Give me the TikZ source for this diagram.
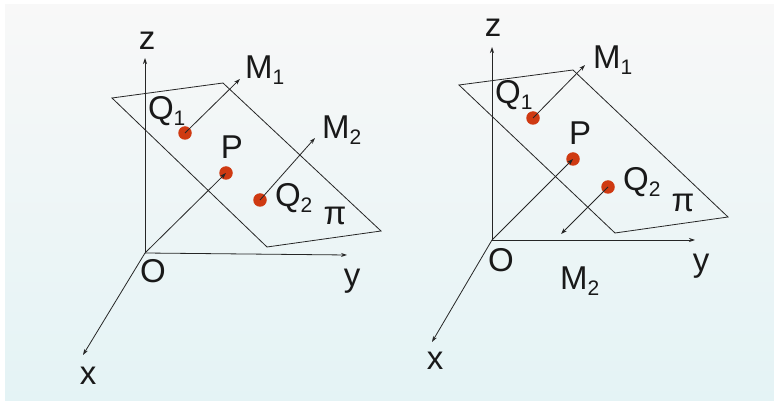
\documentclass[tikz,border=0pt]{standalone}
\usepackage{fontspec}
\setmainfont{Liberation Sans}
\usetikzlibrary{arrows.meta}
\definecolor{bgtop}{HTML}{F8F8F8}
\definecolor{bgbot}{HTML}{E4F3F5}
\definecolor{dotred}{HTML}{CF3A12}
\newcommand{\sbx}[1]{\textsubscript{\fontsize{21}{23}\selectfont #1}}
\begin{document}
\begin{tikzpicture}[x=1pt,y=-1pt,
  axis/.style={-{Stealth[length=6pt,width=4pt]},line width=0.8pt,black!85},
  vec/.style={-{Stealth[length=6pt,width=4pt]},line width=0.8pt,black!85},
  plane/.style={line width=0.8pt,black!85},
  pt/.style={circle,fill=dotred,inner sep=0pt,minimum size=13.5pt},
  lab/.style={font=\fontsize{33}{35}\selectfont,inner sep=0pt,text=black!90}]
\useasboundingbox (0,0) rectangle (774,403);
\fill[white] (0,0) rectangle (774,403);
\shade[top color=bgtop,bottom color=bgbot] (5,5) rectangle (774,400);

% ---------- left diagram ----------
\coordinate (O1) at (145,253);
\coordinate (Z1) at (145,58);
\coordinate (Y1) at (347,255);
\coordinate (X1) at (83,355);
\draw[axis] (O1) -- (Z1);
\draw[axis] (O1) -- (Y1);
\draw[axis] (O1) -- (X1);
\coordinate (A1) at (112,98);
\coordinate (B1) at (223,83);
\coordinate (C1) at (381,231);
\coordinate (D1) at (267,247);
\draw[plane] (A1) -- (B1) -- (C1) -- (D1) -- cycle;
\node[pt] (Q1a) at (185,133) {};
\node[pt] (Pa) at (226,173) {};
\node[pt] (Q2a) at (260,200) {};
\coordinate (M1a) at (240,79);
\coordinate (M2a) at (315,138);
\draw[vec] (Q1a.center) -- (M1a);
\draw[vec] (Q2a.center) -- (M2a);
\draw[vec] (O1) -- (Pa.center);
\node[lab] (zl1) at (147,41) {z};
\node[lab] (yl1) at (352,281) {y};
\node[lab] (xl1) at (88,376) {x};
\node[lab] (ol1) at (153,271) {O};
\node[lab] (pl1) at (232,147) {P};
\node[lab] (q1l1) at (167,111) {Q\sbx{1}};
\node[lab] (m1l1) at (265,70) {M\sbx{1}};
\node[lab] (q2l1) at (294,198) {Q\sbx{2}};
\node[lab] (m2l1) at (342,130) {M\sbx{2}};
\node[lab] (pil1) at (335,216) {π};

% ---------- right diagram ----------
\coordinate (O2) at (492,240);
\coordinate (Z2) at (492,47);
\coordinate (Y2) at (695,240);
\coordinate (X2) at (432,342);
\draw[axis] (O2) -- (Z2);
\draw[axis] (O2) -- (Y2);
\draw[axis] (O2) -- (X2);
\coordinate (A2) at (459,85);
\coordinate (B2) at (573,70);
\coordinate (C2) at (728,217);
\coordinate (D2) at (615,233);
\draw[plane] (A2) -- (B2) -- (C2) -- (D2) -- cycle;
\node[pt] (Q1b) at (533,118) {};
\node[pt] (Pb) at (573,159) {};
\node[pt] (Q2b) at (608,187) {};
\coordinate (M1b) at (585,65);
\coordinate (M2b) at (561,234);
\draw[vec] (Q1b.center) -- (M1b);
\draw[vec] (Q2b.center) -- (M2b);
\draw[vec] (O2) -- (Pb.center);
\node[lab] (zl2) at (493,28) {z};
\node[lab] (yl2) at (701,266) {y};
\node[lab] (xl2) at (435,361) {x};
\node[lab] (ol2) at (501,260) {O};
\node[lab] (pl2) at (580,133) {P};
\node[lab] (q1l2) at (514,95) {Q\sbx{1}};
\node[lab] (m1l2) at (613,60) {M\sbx{1}};
\node[lab] (q2l2) at (642,182) {Q\sbx{2}};
\node[lab] (m2l2) at (580,281) {M\sbx{2}};
\node[lab] (pil2) at (683,203) {π};
\end{tikzpicture}
\end{document}
